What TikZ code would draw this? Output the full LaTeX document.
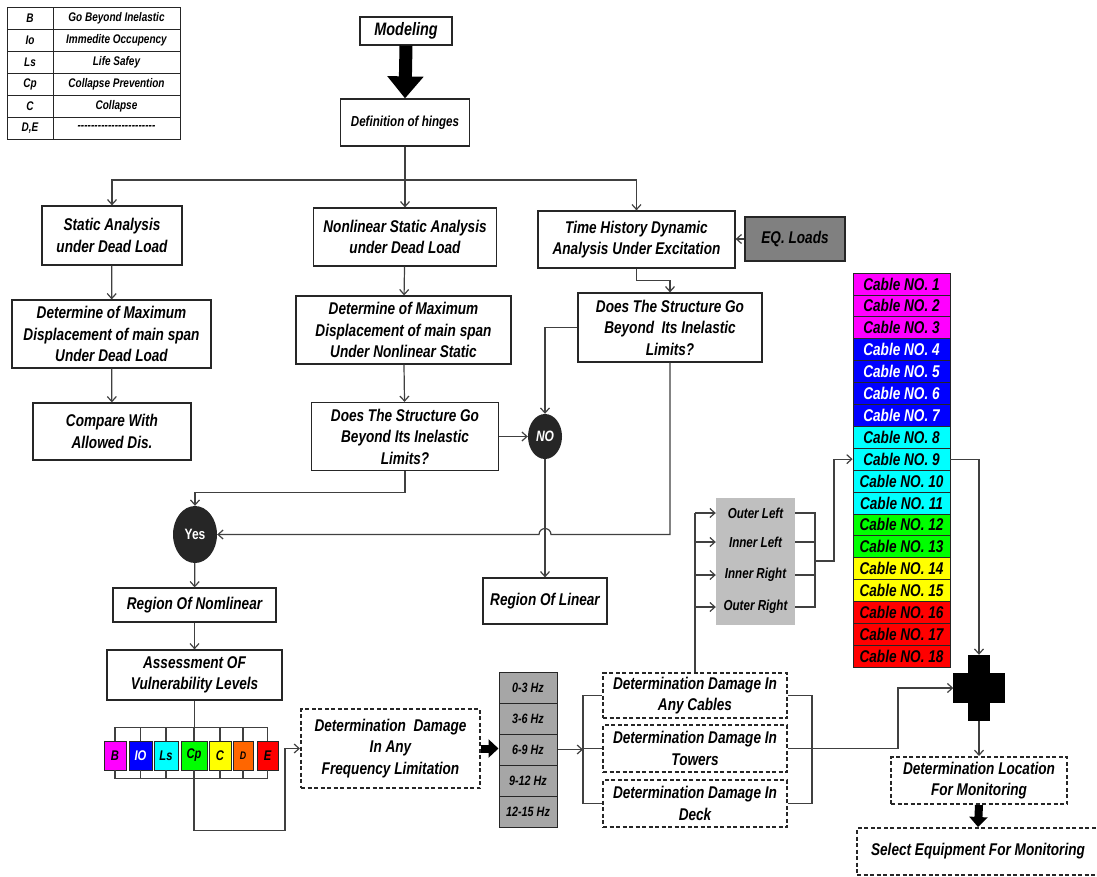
\documentclass[tikz,border=0pt]{standalone}
\usepackage{fontspec}
\setmainfont{Liberation Sans}[FakeStretch=0.8]
\usetikzlibrary{shapes.geometric, arrows.meta, positioning, calc}
\definecolor{cmag}{HTML}{FF00FF}
\definecolor{cblue}{HTML}{0000FF}
\definecolor{ccyan}{HTML}{00FFFF}
\definecolor{cgreen}{HTML}{00FF00}
\definecolor{cyel}{HTML}{FFFF00}
\definecolor{corange}{HTML}{FF6600}
\definecolor{cred}{HTML}{FF0000}
\definecolor{dark}{HTML}{262626}
\definecolor{eqgray}{HTML}{808080}
\definecolor{hzgray}{HTML}{A6A6A6}
\definecolor{grpgray}{HTML}{BFBFBF}
\definecolor{wire}{HTML}{404040}
\newcommand\dashrow{\hbox to 78pt{\xleaders\hbox{-}\hfill}}

\begin{document}
\begin{tikzpicture}[x=1pt, y=-1pt,
  box/.style={draw=black!85, line width=1.2pt, fill=white, align=center, inner sep=1pt,
              font=\fontsize{17}{21.5}\selectfont\bfseries\itshape},
  dbox/.style={box, line width=2pt, dash pattern=on 4pt off 2.5pt},
  ln/.style={draw=wire, line width=1.2pt},
  arr/.style={ln, -{Straight Barb[length=5pt, width=9pt]}},
  bigarr/.style={line width=13pt, -{Triangle[width=35pt, length=22pt]}},
  smallarr/.style={line width=8pt, -{Triangle[width=18pt, length=10pt]}},
  dot/.style={ellipse, fill=dark, text=white, inner sep=0pt,
              font=\fontsize{15}{15}\selectfont\bfseries},
  cell/.style={draw=black!85, line width=0.8pt, minimum width=97pt, minimum height=21.9pt,
               inner sep=0pt, font=\fontsize{17}{17}\selectfont\bfseries\itshape},
  lvl/.style={draw=black!85, line width=0.8pt, minimum height=29pt, inner sep=0pt,
              font=\fontsize{14}{14}\selectfont\bfseries\itshape},
  hz/.style={draw=black!85, fill=hzgray, line width=1pt, minimum width=58pt, minimum height=31pt,
             inner sep=0pt, font=\fontsize{13.5}{13.5}\selectfont\bfseries\itshape},
  lab/.style={minimum width=79pt, inner sep=0pt, font=\fontsize{14.5}{14.5}\selectfont\bfseries\itshape},
  leg/.style={draw=black!85, line width=0.8pt, minimum height=22pt, inner sep=0pt,
              font=\fontsize{12.5}{12.5}\selectfont\bfseries\itshape}
]
\useasboundingbox (0,0) rectangle (1097,876);

% Legend
\foreach \a/\b [count=\i] in {B/Go Beyond Inelastic, Io/Immedite Occupency, Ls/Life Safey,
    Cp/Collapse Prevention, C/Collapse, {D,E}/\dashrow} {
  \node[leg, minimum width=46pt]  (ka\i) at (30, {7+22*(\i-0.5)}) {\a};
  \node[leg, minimum width=127pt] (kb\i) at (116.5, {7+22*(\i-0.5)}) {\b};
}

% Top of the flow
\node[box, minimum width=92pt, minimum height=28pt, font=\fontsize{18}{18}\selectfont\bfseries\itshape] (model) at (406,31) {Modeling};
\node[box, minimum width=129pt, minimum height=47pt, font=\fontsize{14.5}{14.5}\selectfont\bfseries\itshape] (hinge) at (405,122.5) {Definition of hinges};
\draw[bigarr] (model.south) -- (hinge.north);

\node[box, minimum width=140pt, minimum height=59pt] (stat)   at (112,235.5) {Static Analysis\\under Dead Load};
\node[box, minimum width=183pt, minimum height=58pt] (nlstat) at (405,237)   {Nonlinear Static Analysis\\under Dead Load};
\node[box, minimum width=197pt, minimum height=57pt] (thist)  at (636.5,239.5) {Time History Dynamic\\Analysis Under Excitation};
\node[box, fill=eqgray, minimum width=100pt, minimum height=44pt] (eq) at (795,239) {EQ. Loads};

\node[box, minimum width=199pt, minimum height=68pt] (detA) at (111.5,334) {Determine of Maximum\\Displacement of main span\\Under Dead Load};
\node[box, minimum width=215pt, minimum height=68pt] (detB) at (403.5,330) {Determine of Maximum\\Displacement of main span\\Under Nonlinear Static};
\node[box, minimum width=184pt, minimum height=69pt] (doesB) at (670,327.5) {Does The Structure Go\\Beyond~ Its Inelastic\\Limits?};
\node[box, minimum width=158pt, minimum height=57pt] (cmp) at (112,431.5) {Compare With\\Allowed Dis.};
\node[box, minimum width=187pt, minimum height=68pt] (doesA) at (405,436.5) {Does The Structure Go\\Beyond Its Inelastic\\Limits?};

\node[dot, minimum width=34pt, minimum height=45pt, font=\fontsize{15}{15}\selectfont\bfseries\itshape] (no) at (545,436.5) {NO};
\node[dot, minimum width=44pt, minimum height=57pt] (yes) at (195,534.5) {Yes};
\node[box, minimum width=163pt, minimum height=34pt] (rnl)  at (194.5,605) {Region Of Nomlinear};
\node[box, minimum width=124pt, minimum height=46pt] (rlin) at (545,601)   {Region Of Linear};
\node[box, minimum width=175pt, minimum height=50pt] (assess) at (194.5,675) {Assessment OF\\Vulnerability Levels};

% Connectors, upper part
\coordinate (split) at (405,180);
\draw[ln] (hinge.south) -- (split);
\draw[arr] (split) -| (stat.north);
\draw[arr] (split) -| (thist.north);
\draw[arr] (split) -- (nlstat.north);
\draw[arr] (stat) -- (detA);
\draw[arr] (detA) -- (cmp);
\draw[arr] (nlstat) -- (detB);
\draw[arr] (detB) -- (doesA);
\draw[arr] (eq.west) -- (eq.west -| thist.east);
\draw[arr] (thist.south) -- ++(0,12) -| (doesB.north);
\draw[arr] (doesA.east) -- (no.west);
\draw[arr] (doesB.west) -| (no.north);
\draw[arr] (doesA.south) -- ++(0,21) -| (yes.north);
\draw[arr] (doesB.south) |- ($(no.south |- yes.east)+(6,0)$) arc[start angle=0, end angle=180, radius=6pt] -- (yes.east);
\draw[arr] (no.south) -- (rlin.north);
\draw[arr] (yes) -- (rnl);
\draw[arr] (rnl) -- (assess);

% Vulnerability levels
\foreach \n/\x/\w/\c/\t/\l in {lb/115/22/cmag/black/B, lio/140.5/23/cblue/white/IO, lls/166/24/ccyan/black/Ls,
    lcp/194/26/cgreen/black/Cp, lc/220/22/cyel/black/C, ld/243/20/corange/black/{\fontsize{11}{11}\selectfont D},
    le/267.5/21/cred/black/E}
  \node[lvl, fill=\c, text=\t, minimum width=\w pt] (\n) at (\x,755.5) {\l};
\draw[ln] (assess.south) -- ++(0,28);
\draw[ln] (lb.north) -- ++(0,-13) -| (le.north);
\draw[ln] (lb.south) -- ++(0,8) -| (le.south);
\foreach \n in {lio,lls,lcp,lc,ld} {
  \draw[ln] (\n.north) -- ++(0,-13);
  \draw[ln] (\n.south) -- ++(0,8);
}

% Frequency and damage
\node[dbox, minimum width=179pt, minimum height=79pt] (freqbox) at (390.5,748.5) {Determination~ Damage\\In Any\\Frequency Limitation};
\draw[arr] (lcp.south) -- ++(0,60) -| ([xshift=-15pt]freqbox.west) -- (freqbox.west);
\foreach \t [count=\i] in {0-3 Hz, 3-6 Hz, 6-9 Hz, 9-12 Hz, 12-15 Hz}
  \node[hz] (f\i) at (528, {672+31*(\i-0.5)}) {\t};
\draw[smallarr] (freqbox.east) -- (freqbox.east -| f3.west);

\node[dbox, minimum width=184pt, minimum height=45pt] (dcab)  at (695,695.5) {Determination Damage In\\Any Cables};
\node[dbox, minimum width=184pt, minimum height=47pt] (dtow)  at (695,748.5) {Determination Damage In\\Towers};
\node[dbox, minimum width=184pt, minimum height=47pt] (ddeck) at (695,803.5) {Determination Damage In\\Deck};
\coordinate (lbus) at (583,748.5);
\coordinate (rbus) at (812,748.5);
\draw[arr] (f3.east) -- (f3.east -| lbus);
\draw[ln] (dcab.west) -| (lbus) |- (ddeck.west);
\draw[ln] (dtow.west) -- (lbus);
\draw[ln] (dcab.east) -| (rbus) |- (ddeck.east);

% Cable groups
\node[fill=grpgray, minimum width=79pt, minimum height=127pt] (grp) at (755.5,561.5) {};
\node[lab] (ol) at (755.5,513) {Outer Left};
\node[lab] (il) at (755.5,542) {Inner Left};
\node[lab] (ir) at (755.5,575) {Inner Right};
\node[lab] (or) at (755.5,607) {Outer Right};
\draw[ln] (dcab.north) -- (dcab.north |- ol.west);
\foreach \n in {ol,il,ir,or}
  \draw[arr] (dcab.north |- \n.west) -- (\n.west);
\coordinate (gbus) at (815,561);
\draw[ln] (ol.east) -| (gbus) |- (or.east);
\draw[ln] (il.east) -- (il.east -| gbus);
\draw[ln] (ir.east) -- (ir.east -| gbus);

\foreach \c/\t [count=\i] in {cmag/black, cmag/black, cmag/black, cblue/white, cblue/white, cblue/white, cblue/white,
    ccyan/black, ccyan/black, ccyan/black, ccyan/black, cgreen/black, cgreen/black, cyel/black, cyel/black,
    cred/black, cred/black, cred/black}
  \node[cell, fill=\c, text=\t] (c\i) at (901.5, {273+21.9*(\i-0.5)}) {Cable NO. \i};
\draw[arr] (gbus) -- ++(19,0) |- (c9.west);

% Monitoring
\node[minimum width=51pt, minimum height=66pt, inner sep=0pt] (cross) at (979,688) {};
\fill[black] ($(cross.north)+(-11,0)$) rectangle ($(cross.south)+(11,0)$);
\fill[black] ($(cross.west)+(0,-15)$) rectangle ($(cross.east)+(0,15)$);
\draw[arr] (c9.east) -| (cross.north);
\draw[arr] (dtow.east) -- ++(110,0) |- (cross.west);

\node[dbox, minimum width=176pt, minimum height=47pt] (loc) at (979,780.5) {Determination Location\\For Monitoring};
\node[dbox, minimum width=242pt, minimum height=47pt] (sel) at (978,851.5) {Select Equipment For Monitoring};
\draw[arr] (cross.south) -- (loc.north);
\draw[smallarr] (loc.south) -- (sel.north);
\end{tikzpicture}
\end{document}
